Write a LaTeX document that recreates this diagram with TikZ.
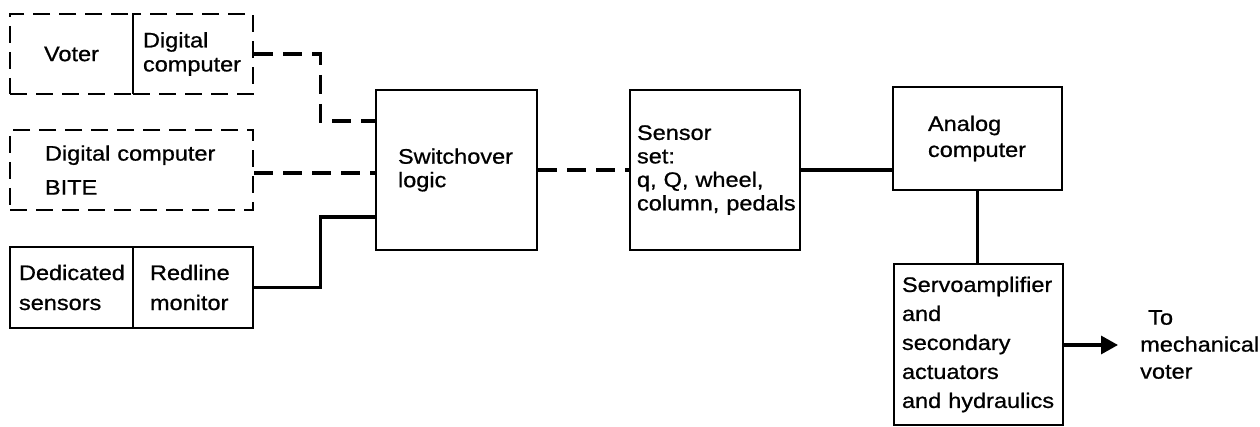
\documentclass[tikz,border=0pt]{standalone}
\usepackage{fontspec}
\setmainfont{Liberation Sans}[FakeStretch=1.12,FakeBold=0.8]
\usetikzlibrary{arrows.meta}
\newcommand{\nohy}{\hyphenpenalty=10000\exhyphenpenalty=10000\relax}
\begin{document}
\begin{tikzpicture}[x=1pt,y=-1pt,
  box/.style={draw, line width=2.8pt, inner ysep=0pt, align=left, font=\fontsize{21}{23.5}\selectfont\nohy},
  dbox/.style={box, dash pattern=on 17pt off 9pt},
  conn/.style={line width=3.3pt},
  dconn/.style={conn, dash pattern=on 19pt off 10pt}]
\useasboundingbox (0,0) rectangle (1260,427);

% left column
\node[dbox, align=center, minimum width=123pt, minimum height=80pt] (voter) at (71.5,54) {Voter};
\node[dbox, minimum width=120pt, minimum height=80pt, text width=100pt, inner xsep=10pt, font=\fontsize{21}{24}\selectfont\nohy] (dig) at (193,54) {Digital\\computer};
\node[dbox, minimum width=243pt, minimum height=80pt, text width=173pt, inner xsep=35pt, font=\fontsize{21}{34}\selectfont\nohy] (bite) at (131.5,170) {Digital computer\\BITE};
\node[box, minimum width=123pt, minimum height=81pt, text width=105pt, inner xsep=9pt, font=\fontsize{21}{30}\selectfont\nohy] (ded) at (71.5,287.5) {Dedicated\\sensors};
\node[box, minimum width=120pt, minimum height=81pt, text width=86pt, inner xsep=17pt, font=\fontsize{21}{30}\selectfont\nohy] (red) at (193,287.5) {Redline\\monitor};

% middle
\node[box, minimum width=161pt, minimum height=160pt, text width=117pt, inner xsep=22pt] (sw) at (456.5,170) {Switchover\\logic\\[22pt]};
\node[box, minimum width=170pt, minimum height=160pt, text width=156pt, inner xsep=7pt] (sen) at (715,170) {Sensor\\set:\\q, Q, wheel,\\\mbox{column, pedals}};

% right
\node[box, minimum width=169pt, minimum height=103pt, text width=99pt, inner xsep=35pt, font=\fontsize{21}{26}\selectfont\nohy] (ana) at (977.5,138.5) {Analog\\computer};
\node[box, minimum width=169pt, minimum height=161pt, text width=153pt, inner xsep=8pt, font=\fontsize{21}{29}\selectfont\nohy] (servo) at (978.5,344.5) {Servoamplifier\\and\\secondary\\actuators\\\mbox{and hydraulics}};
\node[align=left, anchor=north west, inner sep=0pt, font=\fontsize{21}{27}\selectfont] (to) at (1140,310) {\hspace*{8pt}To\\mechanical\\voter};
\coordinate (tip) at (1118,345);

% connectors
\draw[dconn] (dig.east) -- ++(66,0) |- ([yshift=49pt]sw.west);
\draw[dconn] ([yshift=-3pt]bite.east) -- ([yshift=-3pt]bite.east -| sw.west);
\draw[conn] (red.east) -- ++(66,0) |- ([yshift=-47pt]sw.west);
\draw[dconn] (sw.east) -- (sen.west);
\draw[conn] (sen.east) -- (sen.east -| ana.west);
\draw[conn] (ana.south) -- (ana.south |- servo.north);
\draw[conn, -{Triangle[length=17pt,width=18pt]}] (servo.east |- tip) -- (tip);
\end{tikzpicture}
\end{document}
